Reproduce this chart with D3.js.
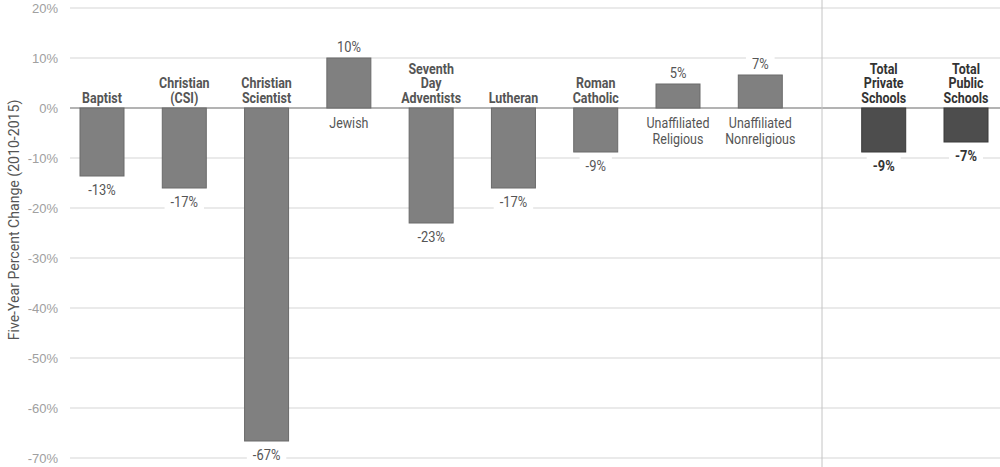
<!doctype html>
<html>
<head>
    <style>
        body { margin: 0; background: #fff; }
        text { font-family: Roboto, 'Liberation Sans', Arial, sans-serif; }
        .tick text { fill: #a0a0a0; font-family: 'Liberation Sans', Arial, sans-serif; font-size: 13px; }
    </style>
    <script src="https://d3js.org/d3.v7.min.js"></script>
</head>
<body>
    <script>
        /*** data ***/
        var categories = [
            ["Baptist"],
            ["Christian", "(CSI)"],
            ["Christian", "Scientist"],
            ["Jewish"],
            ["Seventh", "Day", "Adventists"],
            ["Lutheran"],
            ["Roman", "Catholic"],
            ["Unaffiliated", "Religious"],
            ["Unaffiliated", "Nonreligious"],
            ["Total", "Private", "Schools"],
            ["Total", "Public", "Schools"]
        ];
        var values = [-13.6, -16, -66.6, 10, -23, -16, -8.8, 4.8, 6.6, -8.8, -6.8];
        var valueLabels = ["-13%", "-17%", "-67%", "10%", "-23%", "-17%", "-9%", "5%", "7%", "-9%", "-7%"];
        var isTotal = [false, false, false, false, false, false, false, false, false, true, true];
        // slot index of each bar (half slot gap before the totals)
        var slots = [0, 1, 2, 3, 4, 5, 6, 7, 8, 9.5, 10.5];
        var yTicks = [20, 10, 0, -10, -20, -30, -40, -50, -60, -70];

        var width = 1000, height = 467;
        var squeeze = 0.86; // fake a condensed face
        var svg = d3.select("body").append("svg").attr("width", width).attr("height", height);

        var y = d3.scaleLinear().domain([-70, 20]).range([458, 8]);
        var x = d3.scaleLinear().domain([0, 10.5]).range([102, 966]);
        var barW = 44;

        /*** grid + axis ***/
        var yAxis = d3.axisLeft(y).tickValues(yTicks).tickSize(0).tickPadding(12)
            .tickFormat(function(d){ return d + "%"; });
        var gAxis = svg.append("g").attr("transform", "translate(70,0)").call(yAxis);
        gAxis.select(".domain").remove();

        svg.append("g").selectAll("line").data(yTicks).enter().append("line")
            .attr("x1", 70).attr("x2", width)
            .attr("y1", function(d){ return y(d); })
            .attr("y2", function(d){ return y(d); })
            .attr("stroke", function(d){ return d === 0 ? "#9a9a9a" : "#d6d6d6"; })
            .attr("stroke-width", function(d){ return d === 0 ? 1.5 : 1.2; });

        // separator between religions and totals
        svg.append("line")
            .attr("x1", x(8.75)).attr("x2", x(8.75))
            .attr("y1", 0).attr("y2", height)
            .attr("stroke", "#c4c4c4").attr("stroke-width", 1);

        svg.append("text")
            .attr("transform", "translate(19,220) rotate(-90) scale(0.94,1)")
            .attr("text-anchor", "middle")
            .attr("fill", "#555")
            .style("font-size", "15px")
            .text("Five-Year Percent Change (2010-2015)");

        /*** bars ***/
        var idx = d3.range(values.length);
        svg.append("g").selectAll("rect").data(idx).enter().append("rect")
            .attr("x", function(i){ return x(slots[i]) - barW / 2; })
            .attr("width", barW)
            .attr("y", function(i){ return y(Math.max(0, values[i])); })
            .attr("height", function(i){ return Math.abs(y(values[i]) - y(0)); })
            .attr("fill", function(i){ return isTotal[i] ? "#4d4d4d" : "#808080"; })
            .attr("stroke", function(i){ return isTotal[i] ? "#3a3a3a" : "#6a6a6a"; })
            .attr("stroke-width", 1);

        /*** value labels ***/
        idx.forEach(function(i) {
            var v = values[i];
            var ly = v < 0 ? y(v) + 14 : y(v) - 11;
            var g = svg.append("g").attr("transform", "translate(" + x(slots[i]) + "," + ly + ")");
            var bg = g.append("rect").attr("fill", "#fff");
            var t = g.append("text")
                .attr("transform", "scale(" + squeeze + ",1)")
                .attr("text-anchor", "middle").attr("dy", "0.35em")
                .attr("fill", isTotal[i] ? "#333" : "#555")
                .style("font-size", "15px")
                .style("font-weight", isTotal[i] ? "bold" : "normal")
                .text(valueLabels[i]);
            var bb = t.node().getBBox();
            bg.attr("x", bb.x * squeeze - 6).attr("y", bb.y - 1)
              .attr("width", bb.width * squeeze + 12).attr("height", bb.height + 2);
        });

        /*** category labels ***/
        var lh = 14.5;
        idx.forEach(function(i) {
            var lines = categories[i];
            var pos = values[i] >= 0;
            var t = svg.append("text")
                .attr("transform", "translate(" + x(slots[i]) + ",0) scale(" + squeeze + ",1)")
                .attr("text-anchor", "middle")
                .attr("fill", isTotal[i] ? "#333" : "#555")
                .style("font-size", "14.5px")
                .style("font-weight", pos ? "normal" : "bold");
            lines.forEach(function(s, k) {
                var ty = pos ? y(0) + 20 + k * (lh + 1.5)
                             : y(0) - 5 - (lines.length - 1 - k) * lh;
                t.append("tspan").attr("x", 0).attr("y", ty).text(s);
            });
        });
    </script>
</body>
</html>
